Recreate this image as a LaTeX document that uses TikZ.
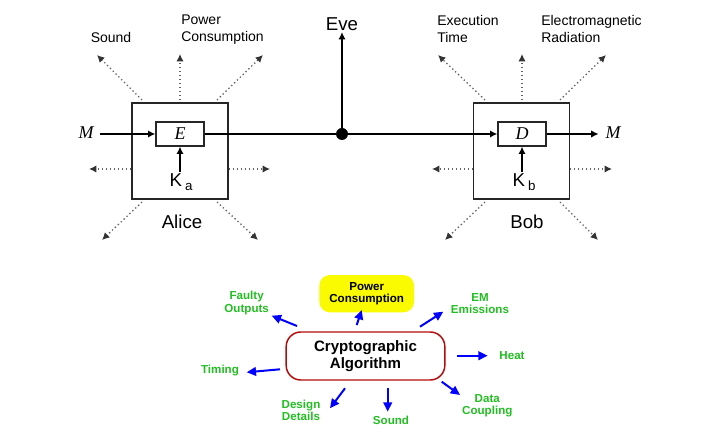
\documentclass[tikz,border=0pt]{standalone}
\usepackage{fontspec}
\setmainfont{Liberation Sans}
\newfontfamily\tmsfont{Liberation Serif}
\usetikzlibrary{arrows.meta}
\definecolor{lblgreen}{RGB}{34,190,34}
\definecolor{boxred}{RGB}{180,10,10}
\definecolor{yel}{RGB}{250,250,0}
\definecolor{dotgray}{RGB}{100,100,100}
\begin{document}
\begin{tikzpicture}[x=0.75pt,y=-0.75pt,
  bigbox/.style={draw=black!85,line width=1pt,minimum width=72pt,minimum height=72pt,inner sep=0pt},
  fbox/.style={draw=black!85,line width=1pt,fill=white,minimum width=36pt,minimum height=18pt,inner sep=0pt,font=\tmsfont\itshape\fontsize{13.5}{14}\selectfont},
  big/.style={font=\fontsize{14}{16}\selectfont,inner sep=1pt},
  small/.style={font=\fontsize{10.5}{12.75}\selectfont,align=left,inner sep=0pt},
  solidarr/.style={line width=1pt,-{Latex[length=5.5pt,width=5.5pt]}},
  dotarr/.style={dotgray,dotted,line width=1pt,-{Latex[length=5.5pt,width=5.5pt,black!80,fill=black!80]}},
  grn/.style={text=lblgreen,font=\bfseries\fontsize{8.7}{9.2}\selectfont,align=center,inner sep=0pt},
  bluearr/.style={blue,line width=1.5pt,-{Triangle[length=7pt,width=6.5pt]}}
]
\useasboundingbox (0,0) rectangle (718,448);

% ---------- top diagram ----------
\node[bigbox] (alice) at (180,151) {};
\node[bigbox] (bob) at (521.5,151) {};
\node[fbox] (E) at (180,134) {E};
\node[fbox] (D) at (522,134) {D};
\node[font=\tmsfont\itshape\fontsize{13.5}{14}\selectfont,inner sep=1pt] (Min) at (86,133) {M};
\node[font=\tmsfont\itshape\fontsize{13.5}{14}\selectfont,inner sep=1pt] (Mout) at (613,133) {M};
\node[circle,fill=black,minimum size=9pt,inner sep=0pt] (dot) at (342,134) {};
\node[big] (eve) at (342,24) {Eve};
\node[big] (Ka) at (181,182) {K\,\raisebox{-0.45ex}{\fontsize{10}{10}\selectfont a}};
\node[big] (Kb) at (524,182) {K\,\raisebox{-0.45ex}{\fontsize{10}{10}\selectfont b}};
\node[big] (alicelbl) at (182,222) {Alice};
\node[big] (boblbl) at (527,222) {Bob};

\coordinate (m0) at ([xshift=4pt]Min.east |- E.west);
\coordinate (m1) at ([xshift=-4pt]Mout.west |- D.east);
\draw[solidarr] (m0) -- (E.west);
\draw[line width=1pt] (E.east) -- (dot.center);
\draw[solidarr] (dot.center) -- (D.west);
\draw[solidarr] (D.east) -- (m1);
\draw[solidarr] (dot.center) -- (eve.south);
\draw[solidarr] (E.south |- Ka.north) -- (E.south);
\draw[solidarr] (D.south |- Kb.north) -- (D.south);

% leakage arrows Alice
\coordinate (a1s) at (142,100); \coordinate (a1e) at (97,55);
\coordinate (a2s) at (180,100); \coordinate (a2e) at (180,54);
\coordinate (a3s) at (217,100); \coordinate (a3e) at (263,55);
\coordinate (a4s) at (131,169); \coordinate (a4e) at (89,169);
\coordinate (a5s) at (229,169); \coordinate (a5e) at (270,169);
\coordinate (a6s) at (142,202); \coordinate (a6e) at (102,240);
\coordinate (a7s) at (217,202); \coordinate (a7e) at (258,240);
\foreach \i in {1,...,7} \draw[dotarr] (a\i s) -- (a\i e);
% leakage arrows Bob
\coordinate (b1s) at (485,100); \coordinate (b1e) at (438,55);
\coordinate (b2s) at (522,100); \coordinate (b2e) at (522,54);
\coordinate (b3s) at (560,100); \coordinate (b3e) at (606,55);
\coordinate (b4s) at (473,169); \coordinate (b4e) at (432,169);
\coordinate (b5s) at (570,169); \coordinate (b5e) at (612,169);
\coordinate (b6s) at (485,202); \coordinate (b6e) at (445,240);
\coordinate (b7s) at (560,202); \coordinate (b7e) at (598,240);
\foreach \i in {1,...,7} \draw[dotarr] (b\i s) -- (b\i e);

\node[small] (sound) at (111,38) {Sound};
\node[small,anchor=west] (power) at (181,29.5) {Power\\Consumption};
\node[small,anchor=west] (exec) at (437,29.5) {Execution\\Time};
\node[small,anchor=west] (emr) at (541,29.5) {Electromagnetic\\Radiation};

% ---------- bottom diagram ----------
\node[draw=boxred,line width=1.1pt,rounded corners=11pt,minimum width=119pt,minimum height=36pt,
      font=\bfseries\fontsize{11.3}{12.3}\selectfont,align=center] (crypto) at (365.5,356) {Cryptographic\\Algorithm};
\node[fill=yel,rounded corners=8pt,minimum width=71pt,minimum height=28pt,inner sep=0pt,
      font=\bfseries\fontsize{8.7}{9.2}\selectfont,align=center] (pc) at (366.7,293.7) {Power\\Consumption};

\node[grn] (faulty) at (246.7,303) {Faulty\\Outputs};
\node[grn] (em) at (480,303.5) {EM\\Emissions};
\node[grn] (heat) at (512,355.7) {Heat};
\node[grn] (timing) at (220,371) {Timing};
\node[grn] (design) at (301,410) {Design\\Details};
\node[grn] (snd) at (391,420) {Sound};
\node[grn] (data) at (487.3,406) {Data\\Coupling};

\coordinate (f0) at (297,326); \coordinate (f1) at (271.7,315.7);
\coordinate (p0) at (356.7,325); \coordinate (p1) at (361.7,310);
\coordinate (e0) at (420,326.7); \coordinate (e1) at (443.3,311.7);
\coordinate (h0) at (456.7,355.7); \coordinate (h1) at (487.7,355.7);
\coordinate (t0) at (280,369.3); \coordinate (t1) at (246.7,372.3);
\coordinate (d0) at (345,388.3); \coordinate (d1) at (330,408.3);
\coordinate (s0) at (387.7,387.7); \coordinate (s1) at (387.7,411.7);
\coordinate (c0) at (441.7,381.7); \coordinate (c1) at (460,395);
\foreach \a in {f,p,e,h,t,d,s,c} \draw[bluearr] (\a0) -- (\a1);
\end{tikzpicture}
\end{document}
